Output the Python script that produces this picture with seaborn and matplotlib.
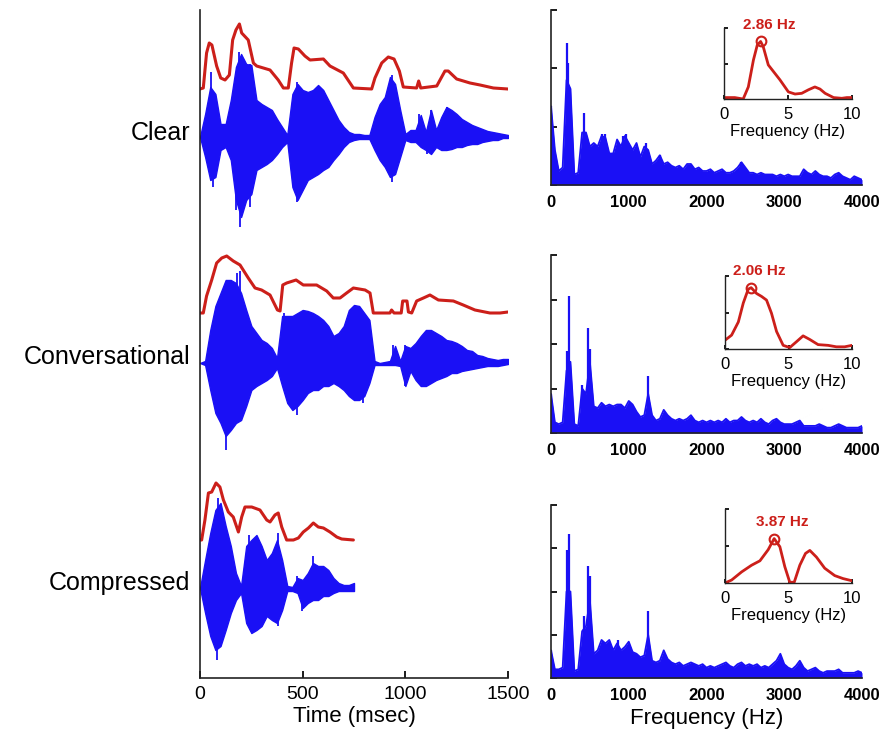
import numpy as np
import matplotlib.pyplot as plt
import seaborn as sns

# === waveform extents (px above / below baseline), one value every 25 ms ===
clear_up = [0, 23, 50, 43, 13, 13, 37, 70, 83, 73, 72, 37, 33, 30, 27, 18, 10, 2, 43, 53,
            47, 45, 47, 52, 47, 37, 27, 17, 10, 5, 3, 3, 2, 2, 20, 33, 40, 60, 53, 27,
            3, 7, 7, 22, 5, 27, 7, 20, 30, 27, 23, 18, 15, 12, 10, 8, 6, 5, 4, 3, 2]
clear_low = [0, 20, 43, 40, 13, 10, 23, 63, 80, 63, 57, 33, 30, 27, 23, 17, 10, 5, 50, 63,
             53, 43, 40, 37, 33, 30, 23, 17, 10, 5, 3, 2, 2, 2, 13, 23, 30, 40, 37, 20,
             3, 5, 5, 10, 13, 17, 10, 13, 13, 12, 10, 10, 8, 7, 7, 5, 4, 3, 3, 1, 1]
conv_up = [0, 2, 33, 57, 70, 83, 83, 80, 70, 53, 37, 30, 23, 20, 15, 5, 47, 47, 47, 50,
           53, 52, 50, 47, 43, 37, 27, 30, 37, 53, 58, 57, 50, 43, 2, 0, 1, 2, 17, 2,
           17, 15, 20, 27, 33, 33, 30, 27, 23, 22, 20, 17, 13, 12, 8, 7, 5, 4, 3, 4, 4]
conv_low = [0, 2, 27, 50, 60, 73, 67, 60, 57, 43, 27, 23, 20, 17, 13, 5, 23, 40, 47, 43,
            37, 30, 27, 27, 23, 23, 20, 23, 27, 33, 37, 37, 33, 20, 2, 2, 2, 2, 2, 3,
            23, 8, 17, 23, 23, 20, 17, 15, 13, 10, 10, 8, 7, 6, 5, 4, 3, 3, 3, 2, 1]
comp_up = [0, 28, 55, 78, 85, 62, 42, 15, 2, 42, 48, 53, 42, 28, 35, 48, 28, 2, 1, 10,
           8, 15, 25, 22, 22, 18, 10, 5, 3, 3, 5]
comp_low = [0, 25, 48, 62, 58, 42, 25, 12, 5, 35, 45, 42, 38, 28, 32, 35, 22, 3, 3, 5,
            20, 15, 12, 12, 8, 8, 5, 3, 3, 3, 3]

# single tall glottal spikes (ms, px up, px down)
clear_spk_t = [52, 62, 174, 192, 195, 211, 243, 471, 933, 1068, 1107, 1123, 1201]
clear_spk_up = [65, 0, 0, 85, 0, 78, 73, 55, 62, 23, 0, 27, 30]
clear_spk_low = [0, 50, 73, 0, 90, 0, 70, 65, 45, 0, 17, 0, 0]
conv_spk_t = [127, 179, 195, 411, 471, 755, 795, 942, 998]
conv_spk_up = [0, 90, 92, 50, 0, 58, 0, 18, 18]
conv_spk_low = [87, 0, 0, 0, 52, 0, 40, 0, 23]
comp_spk_t = [81, 89, 240, 381, 471, 495, 552]
comp_spk_up = [0, 90, 53, 55, 12, 0, 32]
comp_spk_low = [72, 0, 0, 38, 0, 23, 0]

# === amplitude envelopes (ms, px above red baseline) ===
clear_env_t = [0, 16, 32, 45, 58, 81, 101, 122, 143, 159, 175, 192, 203, 235, 260, 276,
               341, 381, 406, 430, 446, 458, 479, 511, 536, 601, 633, 698, 747, 836, 852,
               885, 917, 945, 971, 990, 1055, 1065, 1075, 1153, 1193, 1209, 1250, 1315,
               1364, 1429, 1500]
clear_env_h = [0, 1, 36, 46, 44, 23, 11, 9, 14, 49, 59, 65, 56, 49, 26, 23, 19, 9, 1, 1,
               26, 41, 40, 33, 29, 30, 23, 16, 1, 0, 11, 26, 32, 30, 18, 2, 1, 8, 1, 3,
               18, 18, 10, 6, 4, 1, 0]
conv_env_t = [0, 16, 32, 57, 81, 106, 130, 162, 195, 235, 268, 300, 341, 377, 390, 403,
              422, 468, 503, 568, 617, 649, 682, 714, 747, 804, 828, 844, 925, 933, 945,
              980, 987, 1008, 1015, 1031, 1055, 1088, 1120, 1161, 1234, 1282, 1339, 1412,
              1461, 1500]
conv_env_h = [0, 0, 17, 33, 50, 55, 57, 52, 48, 35, 25, 23, 18, 3, 2, 28, 30, 33, 28, 28,
              22, 15, 15, 20, 25, 23, 20, 0, 0, 3, 0, 0, 12, 12, 1, 0, 12, 15, 18, 13,
              12, 8, 3, 0, 0, 1]
comp_env_t = [0, 8, 24, 41, 57, 78, 97, 114, 138, 162, 187, 203, 219, 252, 292, 325, 341,
              365, 381, 398, 422, 455, 479, 503, 528, 552, 576, 601, 633, 666, 690, 747]
comp_env_h = [0, 0, 20, 47, 48, 57, 53, 40, 28, 23, 8, 23, 33, 33, 30, 20, 18, 25, 27, 13,
              0, 0, 2, 8, 12, 17, 13, 12, 8, 3, 1, 0]

# === long-term spectra, one value every 50 Hz (0..4000), fraction of axis ===
clear_spec = [0.45, 0.20, 0.08, 0.10, 0.60, 0.55, 0.06, 0.07, 0.30, 0.30,
              0.22, 0.24, 0.22, 0.28, 0.27, 0.18, 0.18, 0.26, 0.22, 0.28,
              0.24, 0.20, 0.24, 0.16, 0.22, 0.20, 0.12, 0.14, 0.17, 0.12,
              0.13, 0.11, 0.10, 0.11, 0.09, 0.12, 0.12, 0.09, 0.10, 0.08,
              0.08, 0.09, 0.07, 0.08, 0.09, 0.07, 0.07, 0.08, 0.10, 0.13,
              0.10, 0.07, 0.07, 0.06, 0.07, 0.06, 0.06, 0.06, 0.05, 0.06,
              0.05, 0.06, 0.05, 0.05, 0.05, 0.09, 0.07, 0.06, 0.08, 0.06,
              0.05, 0.05, 0.04, 0.06, 0.07, 0.05, 0.04, 0.03, 0.05, 0.04, 0.03]
conv_spec = [0.22, 0.06, 0.05, 0.06, 0.35, 0.40, 0.05, 0.04, 0.25, 0.22,
             0.40, 0.15, 0.14, 0.17, 0.15, 0.16, 0.15, 0.16, 0.16, 0.14,
             0.18, 0.16, 0.12, 0.09, 0.10, 0.22, 0.10, 0.07, 0.08, 0.13,
             0.10, 0.08, 0.07, 0.08, 0.07, 0.08, 0.10, 0.07, 0.06, 0.07,
             0.06, 0.07, 0.06, 0.07, 0.06, 0.08, 0.06, 0.07, 0.07, 0.09,
             0.07, 0.06, 0.07, 0.06, 0.08, 0.06, 0.05, 0.07, 0.08, 0.06,
             0.05, 0.05, 0.05, 0.06, 0.07, 0.04, 0.04, 0.04, 0.04, 0.05,
             0.04, 0.03, 0.03, 0.04, 0.05, 0.04, 0.03, 0.03, 0.03, 0.03, 0.04]
comp_spec = [0.16, 0.05, 0.05, 0.06, 0.50, 0.50, 0.04, 0.05, 0.27, 0.30,
             0.45, 0.14, 0.16, 0.22, 0.20, 0.22, 0.16, 0.20, 0.16, 0.18,
             0.21, 0.15, 0.14, 0.12, 0.13, 0.25, 0.10, 0.09, 0.10, 0.16,
             0.11, 0.09, 0.08, 0.09, 0.07, 0.08, 0.09, 0.08, 0.07, 0.08,
             0.06, 0.07, 0.06, 0.07, 0.08, 0.09, 0.07, 0.06, 0.08, 0.09,
             0.07, 0.08, 0.07, 0.08, 0.06, 0.07, 0.06, 0.08, 0.10, 0.14,
             0.08, 0.06, 0.05, 0.07, 0.10, 0.06, 0.04, 0.05, 0.06, 0.04,
             0.03, 0.04, 0.04, 0.04, 0.05, 0.03, 0.03, 0.03, 0.03, 0.04, 0.03]

clear_spk_f = [0, 200, 215, 240, 430, 650, 700, 930, 960, 1220, 1400, 2450]
clear_spk_v = [0.45, 0.81, 0.70, 0.55, 0.41, 0.29, 0.29, 0.28, 0.29, 0.24, 0.17, 0.13]
conv_spk_f = [0, 200, 236, 400, 480, 500, 1250]
conv_spk_v = [0.22, 0.46, 0.77, 0.27, 0.59, 0.47, 0.32]
comp_spk_f = [0, 200, 236, 430, 480, 500, 860, 1250]
comp_spk_v = [0.16, 0.74, 0.83, 0.36, 0.65, 0.59, 0.22, 0.39]

# === modulation spectra (insets) ===
clear_mod_f = [0, 0.84, 1.5, 1.9, 2.3, 2.6, 2.86, 3.06, 3.46, 3.85, 4.37, 5.03, 5.55,
               6.07, 6.6, 7.1, 7.5, 7.9, 8.56, 9.2, 9.6, 10]
clear_mod_v = [0.02, 0.02, 0, 0.17, 0.55, 0.76, 0.81, 0.74, 0.48, 0.39, 0.27, 0.10, 0.07,
               0.08, 0.13, 0.17, 0.14, 0.08, 0.02, 0.01, 0.02, 0.02]
conv_mod_f = [0, 0.52, 1.05, 1.44, 1.83, 2.06, 2.49, 2.88, 3.27, 3.66, 4.06, 4.58, 5.1,
              5.63, 6.15, 6.68, 7.33, 8.12, 8.77, 9.42, 10]
conv_mod_v = [0.12, 0.19, 0.37, 0.63, 0.82, 0.84, 0.76, 0.72, 0.67, 0.49, 0.24, 0.05, 0.02,
              0.10, 0.18, 0.13, 0.06, 0.05, 0.03, 0.03, 0.05]
comp_mod_f = [0, 0.52, 1.31, 2.09, 2.75, 3.4, 3.87, 4.32, 4.71, 5.1, 5.45, 5.89, 6.34,
              6.68, 7.2, 7.85, 8.64, 9.29, 10]
comp_mod_v = [0, 0.04, 0.15, 0.24, 0.30, 0.45, 0.60, 0.49, 0.22, 0.01, 0.01, 0.24, 0.40,
              0.44, 0.35, 0.20, 0.10, 0.06, 0.03]

labels = ["Clear", "Conversational", "Compressed"]

BLUE = "#1a10f5"
RED = "#cc1f1a"
W, H = 884, 739

sns.set_theme(style="white")
plt.rcParams["font.family"] = ["Liberation Sans", "DejaVu Sans"]
plt.rcParams["text.color"] = "black"
plt.rcParams["axes.labelcolor"] = "black"
plt.rcParams["xtick.color"] = "black"
plt.rcParams["ytick.color"] = "black"

fig = plt.figure(figsize=(W / 100, H / 100), dpi=100)


def px_axes(x0, y0, x1, y1):
    return fig.add_axes([x0 / W, 1 - y1 / H, (x1 - x0) / W, (y1 - y0) / H])


# === left: waveforms + envelopes ===
ax = px_axes(200, 10, 508, 678)
rows = [
    (clear_up, clear_low, clear_spk_t, clear_spk_up, clear_spk_low, clear_env_t, clear_env_h, 137, 89, 133),
    (conv_up, conv_low, conv_spk_t, conv_spk_up, conv_spk_low, conv_env_t, conv_env_h, 363, 313, 357),
    (comp_up, comp_low, comp_spk_t, comp_spk_up, comp_spk_low, comp_env_t, comp_env_h, 588, 540, 583),
]
for lab, (up, low, st, su, sl, et, eh, base, rbase, ly) in zip(labels, rows):
    t = np.arange(len(up)) * 25
    up, low = np.array(up), np.array(low)
    ax.fill_between(t, base - up, base + low, color=BLUE, edgecolor=BLUE, lw=1.0)
    ax.vlines(st, base - np.array(su), base + np.array(sl), color=BLUE, lw=1.3)
    sns.lineplot(x=et, y=rbase - np.array(eh), color=RED, lw=2.2, ax=ax,
                 sort=False, estimator=None)
    fig.text(190 / W, 1 - ly / H, lab, ha="right", va="center", fontsize=18)

ax.set_xlim(0, 1500)
ax.set_ylim(678, 10)
ax.set_yticks([])
ax.set_xticks([0, 500, 1000, 1500])
ax.tick_params(axis="x", direction="in", length=5, labelsize=14, pad=6, bottom=True)
ax.set_xlabel("Time (msec)", fontsize=16, labelpad=2)
ax.set_ylabel("")
for s in ["top", "right"]:
    ax.spines[s].set_visible(False)
for s in ["left", "bottom"]:
    ax.spines[s].set_color("#222222")
    ax.spines[s].set_linewidth(1.2)

# === right: spectra + modulation insets ===
freqs = np.arange(0, 4001, 50)
spec_rows = [
    (clear_spec, clear_spk_f, clear_spk_v, clear_mod_f, clear_mod_v, (10, 185), (724, 28, 852, 99), 4),
    (conv_spec, conv_spk_f, conv_spk_v, conv_mod_f, conv_mod_v, (255, 433), (725, 276, 852, 349), 5),
    (comp_spec, comp_spk_f, comp_spk_v, comp_mod_f, comp_mod_v, (505, 678), (725, 509, 852, 583), 5),
]
for i, (spec, sf, sv, mf, mv, (y0, y1), ibox, nt) in enumerate(spec_rows):
    sa = px_axes(551, y0, 862, y1)
    sa.fill_between(freqs, 0, spec, color=BLUE, lw=0)
    sns.lineplot(x=freqs, y=spec, color=BLUE, lw=1.3, ax=sa, sort=False, estimator=None)
    sa.vlines(sf, 0, sv, color=BLUE, lw=1.6)
    sa.set_xlim(0, 4000)
    sa.set_ylim(0, 1)
    sa.set_xticks([0, 1000, 2000, 3000, 4000])
    sa.set_yticks(np.linspace(0, 1, nt))
    sa.set_yticklabels([])
    sa.tick_params(axis="both", direction="in", length=4, labelsize=12, pad=7,
                   left=True, bottom=False)
    for tl in sa.get_xticklabels():
        tl.set_fontweight("bold")
    sa.set_ylabel("")
    sa.set_xlabel("Frequency (Hz)" if i == 2 else "", fontsize=16, labelpad=4)
    for s in ["top", "right"]:
        sa.spines[s].set_visible(False)
    for s in ["left", "bottom"]:
        sa.spines[s].set_color("#222222")
        sa.spines[s].set_linewidth(1.2)

    ia = px_axes(*ibox)
    ia.set_facecolor("white")
    sns.lineplot(x=mf, y=mv, color=RED, lw=2, ax=ia, sort=False, estimator=None)
    k = int(np.argmax(mv))
    ia.plot(mf[k], mv[k], "o", mfc="none", mec=RED, ms=7, mew=1.5)
    ia.annotate(f"{mf[k]:.2f} Hz", (mf[k], mv[k]), xytext=(6, 12),
                textcoords="offset points", ha="center", va="center",
                color=RED, fontsize=11, fontweight="bold", annotation_clip=False)
    ia.set_xlim(0, 10)
    ia.set_ylim(0, 1)
    ia.set_xticks([0, 5, 10])
    ia.set_yticks([0, 0.5, 1])
    ia.set_yticklabels([])
    ia.tick_params(axis="both", direction="in", length=3, labelsize=12, pad=6,
                   left=True, bottom=True)
    ia.set_ylabel("")
    ia.set_xlabel("Frequency (Hz)", fontsize=12, labelpad=1)
    for s in ["top", "right"]:
        ia.spines[s].set_visible(False)
    for s in ["left", "bottom"]:
        ia.spines[s].set_color("#222222")
        ia.spines[s].set_linewidth(1.0)

fig.savefig("out.png", dpi=100)
plt.close(fig)
